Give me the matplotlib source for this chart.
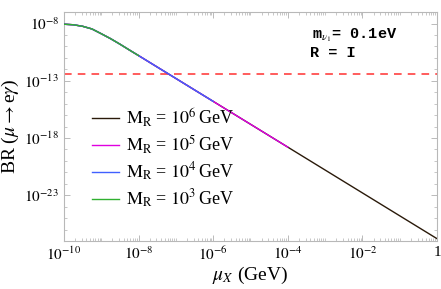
import matplotlib
matplotlib.use("Agg")
import matplotlib.pyplot as plt
import numpy as np
from matplotlib.ticker import FixedLocator, LogLocator, NullFormatter

plt.rcParams['font.family'] = ['Liberation Serif', 'DejaVu Serif']
plt.rcParams['mathtext.fontset'] = 'stix'

# mu_X (GeV) and BR(mu -> e gamma)
mu_x = [1e-10, 1.78e-10, 3.16e-10, 5.62e-10, 1e-9, 1.78e-9, 3.16e-9, 5.62e-9,
        1e-8, 3.16e-8, 1e-7, 3.16e-7, 1e-6, 1e-5, 1e-4, 1e-3, 1e-2, 1e-1, 1.0]
br = [8.8e-9, 7.9e-9, 5.8e-9, 3.4e-9, 1.3e-9, 4.8e-10, 1.6e-10, 5.0e-11,
      1.6e-11, 1.6e-12, 1.6e-13, 1.6e-14, 1.6e-15, 1.6e-17, 1.6e-19, 1.6e-21,
      1.6e-23, 1.6e-25, 1.6e-27]

# each curve is visible on top up to a different mu_X
labels = [r'$\mathrm{M_R}$ = $10^6\,$GeV', r'$\mathrm{M_R}$ = $10^5\,$GeV',
          r'$\mathrm{M_R}$ = $10^4\,$GeV', r'$\mathrm{M_R}$ = $10^3\,$GeV']
colors = ['#2a1a0a', '#e000e0', '#4060ff', '#30b030']
ends = [1.0, 1e-4, 1e-6, 1e-8]

br_limit = 4.2e-13

fig = plt.figure(figsize=(4.41, 2.89), dpi=100)
ax = fig.add_axes([0.145, 0.166, 0.846, 0.792])

mu = np.array(mu_x)
b = np.array(br)
for i, (lab, c, e) in enumerate(zip(labels, colors, ends)):
    m = mu <= e * 1.0001
    ax.plot(mu[m], b[m], color=c, lw=1.0, label=lab, zorder=3 + i)

ax.axhline(br_limit, color='#ff3030', lw=1.1, dashes=(5, 4), zorder=2)

ax.set_xscale('log')
ax.set_yscale('log')
ax.set_xlim(1e-10, 1)
ax.set_ylim(1e-27, 1e-7)

xt = [1e-10, 1e-8, 1e-6, 1e-4, 1e-2, 1]
ax.xaxis.set_major_locator(FixedLocator(xt))
ax.set_xticklabels([r'$10^{-10}$', r'$10^{-8}$', r'$10^{-6}$', r'$10^{-4}$', r'$10^{-2}$', '1'])
ax.xaxis.set_minor_locator(LogLocator(base=10, subs=np.arange(1, 10), numticks=100))
ax.xaxis.set_minor_formatter(NullFormatter())

yt = [1e-23, 1e-18, 1e-13, 1e-8]
ax.yaxis.set_major_locator(FixedLocator(yt))
ax.set_yticklabels([r'$10^{-23}$', r'$10^{-18}$', r'$10^{-13}$', r'$10^{-8}$'])
ax.yaxis.set_minor_locator(FixedLocator([10.0 ** k for k in range(-27, -6)]))
ax.yaxis.set_minor_formatter(NullFormatter())

ax.tick_params(which='both', direction='in', top=True, right=True, colors='#b0b0b0',
               labelcolor='black', labelsize=11)
ax.tick_params(which='major', length=4, width=0.6)
ax.tick_params(which='minor', length=2, width=0.5)
for s in ax.spines.values():
    s.set_color('#b8b8b8')
    s.set_linewidth(0.8)

ax.set_xlabel(r'$\mu_X$ (GeV)', fontsize=14, labelpad=1)
ax.set_ylabel(r'BR ($\mu\rightarrow$e$\gamma$)', fontsize=14, labelpad=2)

leg = ax.legend(loc='lower left', bbox_to_anchor=(0.04, 0.08), frameon=False, fontsize=13,
                handlelength=1.5, handletextpad=0.4, labelspacing=0.25, borderpad=0.2)

ax.text(0.78, 0.90, r'm$_{\nu_1}$= 0.1eV', transform=ax.transAxes, ha='center', va='center',
        family='Liberation Mono', fontweight='bold', fontsize=11)
ax.text(0.72, 0.82, 'R = I', transform=ax.transAxes, ha='center', va='center',
        family='Liberation Mono', fontweight='bold', fontsize=11)

fig.savefig('out.png', dpi=100)
